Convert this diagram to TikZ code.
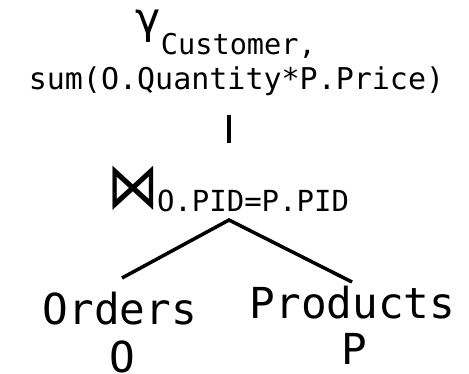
\documentclass[tikz,border=0pt]{standalone}
\usepackage{fontspec}
\newfontfamily\mono{DejaVu Sans Mono}
\newfontfamily\symfont{DejaVu Sans}
\begin{document}
\begin{tikzpicture}[x=1pt,y=-1pt,
  lbl/.style={inner sep=0pt, outer sep=0pt},
  edge/.style={line width=3.5pt, line join=miter}]
\useasboundingbox (0,0) rectangle (469,374);
% aggregation
\node[lbl, anchor=base west, font=\mono] (agg) at (135,34)
  {{\fontsize{43}{43}\selectfont γ}\raisebox{-21pt}{\fontsize{28.6}{29}\selectfont Customer,}};
\node[lbl, anchor=base, font=\mono\fontsize{30}{30}\selectfont] (sum) at (236.5,90) {sum(O.Quantity*P.Price)};
\coordinate (vtop) at (229,115);
\coordinate (vbot) at (229,143);
\draw[edge] (vtop) -- (vbot);
% join
\node[lbl, anchor=center, font=\symfont\fontsize{43}{43}\selectfont] (bowtie) at (133.5,188) {\scalebox{1.2}[1.5]{⋈}};
\node[lbl, anchor=base west, font=\mono\fontsize{29}{29}\selectfont] (cond) at (157,212) {O.PID=P.PID};
\coordinate (apex) at (229,220);
\coordinate (lend) at (122,278);
\coordinate (rend) at (352,282);
\draw[edge] (lend) -- (apex) -- (rend);
% relations
\node[lbl, anchor=base, font=\mono\fontsize{42.7}{48}\selectfont] (orders) at (120,325) {Orders};
\node[lbl, anchor=base, font=\mono\fontsize{42.7}{48}\selectfont] (oalias) at (122,372) {O};
\node[lbl, anchor=base, font=\mono\fontsize{42.7}{48}\selectfont] (products) at (352.5,319) {Products};
\node[lbl, anchor=base, font=\mono\fontsize{42.7}{48}\selectfont] (palias) at (354,365) {P};
\end{tikzpicture}
\end{document}
